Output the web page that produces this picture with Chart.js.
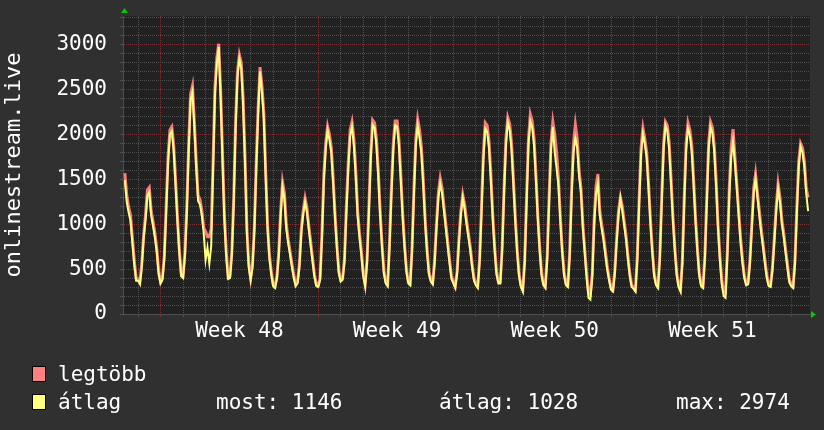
<!DOCTYPE html>
<html lang="hu">
<head>
<meta charset="UTF-8">
<title>onlinestream.live</title>
<script src="https://cdn.jsdelivr.net/npm/chart.js"></script>
<style>
  body { margin: 0; background: #303030; }
  #wrap { position: relative; width: 824px; height: 430px; overflow: hidden; }
  #chart { position: absolute; left: 0; top: 0; }
  .txt {
    position: absolute;
    font-family: 'DejaVu Sans Mono', monospace;
    font-size: 21px;
    line-height: 28px;
    color: #fff;
    white-space: pre;
  }
  .swatch { position: absolute; width: 14px; height: 16px; border: 1px solid #000; box-sizing: border-box; }
</style>
</head>
<body>
<div id="wrap">
  <canvas id="chart" width="824" height="430"></canvas>
  <div class="swatch" style="left:32px;top:366px;background:#ff8080"></div>
  <div class="txt" style="left:58px;top:360px">legtöbb</div>
  <div class="swatch" style="left:32px;top:394px;background:#ffff80"></div>
  <div class="txt" style="left:58px;top:388px">átlag</div>
  <div class="txt" style="left:216px;top:388px">most: 1146</div>
  <div class="txt" style="left:439px;top:388px">átlag: 1028</div>
  <div class="txt" style="left:676px;top:388px">max: 2974</div>
</div>

<script>
// time axis in hours, day 0 = Sunday before week 48, one sample every 2 hours
const startHour = -14;
const stepHours = 2;
const weekNumbers = [48, 49, 50, 51];

// legtöbb (max), rows are days, hours 0..22
const maxVals = [
  1570, 1320, 1190, 1100, 850, 600, 400,
  390, 350, 560, 880, 1100, 1380, 1410, 1150, 1030, 900, 730, 480,
  360, 400, 650, 1200, 1750, 2050, 2085, 1880, 1500, 1080, 720, 450,
  430, 690, 1200, 1900, 2450, 2540, 2150, 1700, 1320, 1280, 1150, 960,
  920, 860, 860, 950, 1700, 2520, 2860, 3010, 2500, 1800, 1120, 700,
  410, 420, 700, 1300, 2150, 2700, 2888, 2800, 2400, 1750, 960, 560,
  400, 560, 980, 1700, 2300, 2750, 2550, 2250, 1600, 1000, 660, 470,
  330, 310, 420, 700, 1150, 1470, 1350, 1000, 830, 700, 560, 430,
  330, 360, 560, 950, 1150, 1290, 1180, 980, 800, 620, 440, 330,
  320, 400, 900, 1550, 1900, 2090, 2000, 1850, 1500, 1100, 760, 480,
  380, 400, 620, 1200, 1680, 2050, 2140, 1950, 1600, 1150, 900, 700,
  450, 330, 600, 1200, 1800, 2160, 2130, 1950, 1600, 1150, 780, 480,
  360, 330, 800, 1400, 1900, 2150, 2150, 1950, 1550, 1120, 780, 500,
  360, 340, 750, 1400, 1950, 2170, 2050, 1850, 1480, 1050, 720, 470,
  380, 350, 600, 1000, 1350, 1511, 1400, 1200, 1000, 800, 600, 420,
  360, 310, 480, 850, 1150, 1330, 1220, 1050, 900, 750, 560, 400,
  340, 310, 620, 1200, 1800, 2130, 2100, 1920, 1550, 1100, 750, 470,
  360, 360, 750, 1400, 1950, 2190, 2120, 1900, 1500, 1080, 720, 450,
  320, 270, 600, 1300, 1950, 2225, 2150, 1950, 1550, 1100, 740, 460,
  340, 310, 650, 1300, 1900, 2140, 2000, 1800, 1500, 1080, 720, 460,
  340, 320, 700, 1400, 1900, 2110, 1950, 1600, 1400, 1000, 720, 450,
  240, 220, 450, 1050, 1420, 1560, 1150, 1000, 870, 700, 530, 400,
  290, 270, 480, 850, 1150, 1300, 1200, 1030, 870, 650, 450, 320,
  300, 270, 650, 1300, 1850, 2070, 1950, 1800, 1450, 1050, 720, 450,
  340, 310, 650, 1300, 1900, 2140, 2100, 1900, 1500, 1080, 740, 460,
  320, 270, 600, 1300, 1900, 2130, 2050, 1880, 1500, 1080, 740, 460,
  330, 310, 650, 1300, 1900, 2140, 2080, 1880, 1480, 1000, 650, 380,
  250, 240, 720, 1400, 1850, 2060, 1750, 1450, 1150, 850, 620, 430,
  340, 350, 600, 1000, 1400, 1560, 1350, 1150, 950, 780, 600, 430,
  330, 320, 520, 850, 1200, 1450, 1300, 1050, 900, 720, 550, 380,
  330, 310, 600, 1200, 1700, 1900, 1850, 1700, 1400, 1300
];

// átlag (average)
const avgVals = [
  1490, 1250, 1130, 1040, 790, 550, 370,
  370, 335, 520, 840, 1050, 1320, 1360, 1100, 980, 850, 690, 440,
  340, 380, 610, 1130, 1680, 2000, 2036, 1820, 1440, 1030, 680, 420,
  400, 650, 1130, 1820, 2380, 2474, 2080, 1640, 1260, 1220, 1100, 900,
  600, 740, 560, 760, 1620, 2450, 2790, 2974, 2420, 1720, 1050, 640,
  390, 400, 660, 1240, 2080, 2640, 2844, 2740, 2320, 1680, 900, 520,
  380, 520, 930, 1620, 2230, 2700, 2480, 2180, 1530, 950, 620, 440,
  310, 290, 390, 650, 1090, 1418, 1280, 950, 790, 660, 520, 400,
  310, 340, 530, 900, 1110, 1251, 1130, 940, 760, 580, 410, 310,
  300, 380, 850, 1480, 1840, 2048, 1940, 1790, 1440, 1050, 720, 450,
  360, 380, 580, 1130, 1610, 1980, 2085, 1880, 1530, 1090, 850, 650,
  420, 310, 560, 1130, 1730, 2110, 2080, 1880, 1530, 1090, 740, 450,
  340, 310, 750, 1330, 1830, 2103, 2090, 1880, 1490, 1070, 740, 470,
  340, 320, 700, 1330, 1880, 2103, 1960, 1780, 1420, 1000, 680, 440,
  360, 330, 560, 950, 1290, 1455, 1340, 1150, 950, 750, 560, 390,
  340, 290, 450, 800, 1100, 1296, 1170, 1000, 860, 710, 520, 370,
  320, 290, 580, 1130, 1730, 2066, 2030, 1850, 1480, 1050, 710, 440,
  340, 340, 700, 1330, 1880, 2140, 2050, 1830, 1440, 1030, 680, 420,
  300, 250, 560, 1230, 1880, 2148, 2080, 1880, 1490, 1050, 700, 430,
  320, 290, 610, 1230, 1830, 2085, 1800, 1620, 1430, 1030, 680, 430,
  320, 300, 650, 1300, 1800, 1960, 1850, 1530, 1350, 950, 680, 400,
  180, 160, 410, 980, 1340, 1455, 1100, 950, 820, 650, 490, 370,
  270, 250, 440, 800, 1100, 1288, 1150, 990, 830, 610, 420, 300,
  280, 250, 600, 1230, 1780, 2010, 1890, 1740, 1390, 1000, 680, 420,
  320, 290, 610, 1230, 1830, 2103, 2040, 1830, 1440, 1030, 700, 430,
  300, 250, 560, 1230, 1830, 2066, 1990, 1810, 1440, 1030, 700, 430,
  310, 290, 610, 1230, 1830, 2085, 2020, 1810, 1420, 950, 600, 330,
  200, 180, 660, 1320, 1750, 1920, 1680, 1400, 1100, 800, 570, 400,
  320, 330, 560, 950, 1340, 1510, 1300, 1100, 900, 740, 560, 400,
  310, 300, 490, 800, 1150, 1400, 1250, 1000, 860, 680, 510, 350,
  310, 290, 560, 1130, 1640, 1862, 1800, 1640, 1340, 1146
];

const times = maxVals.map((_, i) => startHour + i * stepHours);
const toPoints = vals => vals.map((v, i) => ({ x: times[i], y: v }));

const FONT = 'DejaVu Sans Mono';
const GRID = '#505050';
const MGRID = '#7a3232';
const AXIS = '#505050';

// first week starts on day 1 (Monday)
function weekLabel(v) {
  const k = (v - 108) / 168;
  return Number.isInteger(k) && weekNumbers[k] ? 'Week ' + weekNumbers[k] : '';
}

const bgPlugin = {
  id: 'bg',
  beforeDraw(chart) {
    const { ctx, chartArea: a } = chart;
    ctx.save();
    ctx.fillStyle = '#303030';
    ctx.fillRect(0, 0, chart.width, chart.height);
    ctx.fillStyle = '#212121';
    ctx.fillRect(a.left, a.top, a.right - a.left, a.bottom - a.top);
    ctx.restore();
  },
  afterDraw(chart) {
    const { ctx, chartArea: a } = chart;
    ctx.save();
    ctx.fillStyle = '#00cc00';
    // arrow on y axis
    ctx.beginPath();
    ctx.moveTo(a.left - 2, 13);
    ctx.lineTo(a.left + 5, 13);
    ctx.lineTo(a.left + 1.5, 8);
    ctx.fill();
    // arrow on x axis
    ctx.beginPath();
    ctx.moveTo(a.right + 1, a.bottom - 3);
    ctx.lineTo(a.right + 1, a.bottom + 4);
    ctx.lineTo(a.right + 6, a.bottom + 0.5);
    ctx.fill();
    ctx.restore();
  }
};

new Chart(document.getElementById('chart'), {
  type: 'line',
  data: {
    datasets: [{
      label: 'átlag',
      data: toPoints(avgVals),
      borderColor: '#ffff80',
      borderWidth: 2,
      pointRadius: 0,
      tension: 0,
      order: 0
    }, {
      label: 'legtöbb',
      data: toPoints(maxVals),
      borderColor: '#f77c7c',
      borderWidth: 3,
      pointRadius: 0,
      tension: 0,
      order: 1
    }]
  },
  options: {
    responsive: false,
    animation: false,
    devicePixelRatio: 1,
    layout: { padding: { left: 0, top: 16, right: 14, bottom: 76 } },
    plugins: { legend: { display: false }, tooltip: { enabled: false } },
    scales: {
      x: {
        type: 'linear',
        min: -16,
        max: 716,
        afterBuildTicks: s => {
          const t = [];
          for (let v = 0; v <= 708; v += 12) t.push({ value: v });
          s.ticks = t;
        },
        afterFit: s => {
          s.height = 40;
          s.paddingLeft = 0;
          s.paddingRight = 0;
        },
        ticks: {
          autoSkip: false,
          maxRotation: 0,
          color: '#fff',
          padding: 2,
          font: { family: FONT, size: 21 },
          callback: v => weekLabel(v)
        },
        grid: {
          color: c => c.tick.value % 24 !== 0 ? 'rgba(0,0,0,0)' : ((c.tick.value - 24) % 168 === 0 ? MGRID : GRID),
          tickColor: c => c.tick.value % 24 !== 0 ? 'rgba(0,0,0,0)' : ((c.tick.value - 24) % 168 === 0 ? MGRID : GRID),
          tickLength: 3
        },
        border: { display: true, color: AXIS, dash: [1, 1] }
      },
      y: {
        min: 0,
        max: 3320,
        afterBuildTicks: s => {
          const t = [];
          for (let v = 0; v <= 3300; v += 100) t.push({ value: v });
          s.ticks = t;
        },
        afterFit: s => {
          s.width = 123;
          s.paddingTop = 0;
          s.paddingBottom = 0;
        },
        ticks: {
          autoSkip: false,
          color: '#fff',
          padding: 13,
          font: { family: FONT, size: 21 },
          callback: v => v % 500 === 0 ? String(v) : ''
        },
        grid: {
          color: c => c.tick.value === 0 ? AXIS : (c.tick.value % 500 === 0 ? MGRID : GRID),
          tickColor: GRID,
          tickLength: 3
        },
        border: { display: true, color: AXIS, dash: [1, 1] },
        title: {
          display: true,
          text: 'onlinestream.live',
          color: '#fff',
          font: { family: FONT, size: 22 },
          padding: { top: 1, bottom: 0 }
        }
      }
    }
  },
  plugins: [bgPlugin]
});
</script>
</body>
</html>
